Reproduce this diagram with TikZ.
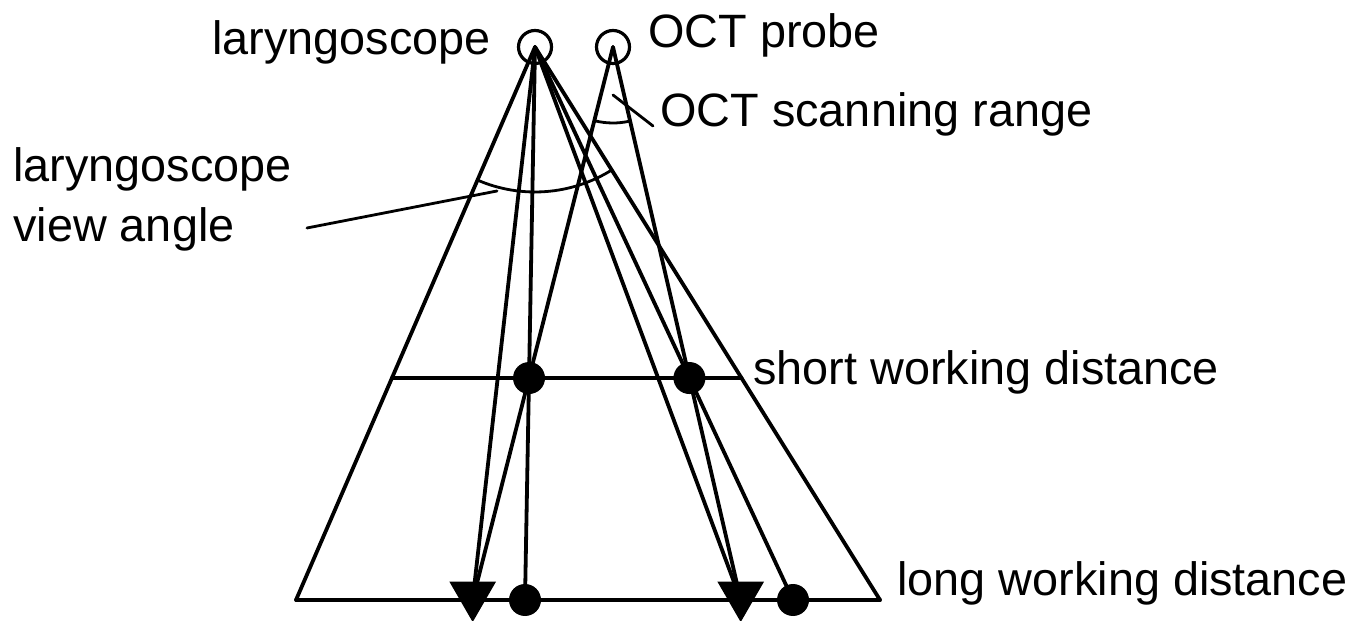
\documentclass[tikz,border=0pt]{standalone}
\usepackage{fontspec}
\setmainfont{Liberation Sans}
\usetikzlibrary{calc,shapes.geometric}
\pgfdeclarelayer{back}
\pgfsetlayers{back,main}
\begin{document}
\begin{tikzpicture}[x=0.5pt,y=0.5pt,
  ray/.style={line width=1.9pt,line cap=round,line join=round},
  thin ray/.style={line width=1.4pt,line cap=round},
  hub/.style={circle,draw,line width=1.6pt,minimum size=16.5pt,inner sep=0pt},
  spot/.style={circle,fill,minimum size=16pt,inner sep=0pt},
  tip/.style={regular polygon,regular polygon sides=3,shape border rotate=180,
              fill,minimum size=27pt,inner sep=0pt},
  lbl/.style={anchor=base west,inner sep=0pt,font=\fontsize{23.4}{27}\selectfont}]
\useasboundingbox (0,0) rectangle (1352,620);

% apertures of the laryngoscope and of the OCT probe
\node[hub] (L) at (535,573) {};
\node[hub] (P) at (613,573) {};

% corners of the field of view at the long working distance
\coordinate (A) at (296,20);
\coordinate (B) at (880,20);
% ends of the short working distance line
\coordinate (S1) at ($(L.center)!0.5986!(A)$);
\coordinate (S2) at ($(L.center)!0.5986!(B)$);
% focus points
\coordinate (e1) at (525,20);
\coordinate (e2) at (793,20);
\coordinate (d1) at ($(L.center)!0.5986!(e1)$);
\coordinate (d2) at ($(L.center)!0.5986!(e2)$);
\coordinate (t1) at ($(P.center)!1.6707!(d1)$);
\coordinate (t2) at ($(P.center)!1.6707!(d2)$);

\node[spot] (D1) at (d1) {};
\node[spot] (D2) at (d2) {};
\node[spot] (E1) at (e1) {};
\node[spot] (E2) at (e2) {};
\node[tip] (T1) at ($(t1)+(0,5)$) {};
\node[tip] (T2) at ($(t2)+(0,5)$) {};

% leader line ends
\coordinate (va1) at (307,392);
\coordinate (va2) at (497,429);
\coordinate (sr1) at (613,525);
\coordinate (sr2) at (653,494);

\begin{pgfonlayer}{back}
  % view cone and working distances
  \draw[ray] (A) -- (L.center) -- (B);
  \draw[ray] (A) -- (B);
  \draw[ray] (S1) -- (S2);
  % laryngoscope rays
  \draw[ray] (L.center) -- (t1);
  \draw[ray] (L.center) -- (E1.center);
  \draw[ray] (L.center) -- (t2);
  \draw[ray] (L.center) -- (E2.center);
  % OCT scanning rays
  \draw[ray] (P.center) -- (D1.center) -- (t1);
  \draw[ray] (P.center) -- (D2.center) -- (t2);
  % angle marks
  \draw[thin ray] (L.center) ++(-113.4:145) arc[start angle=-113.4,end angle=-58,radius=145];
  \draw[thin ray] (P.center) ++(-104.2:76) arc[start angle=-104.2,end angle=-77,radius=76];
  % leaders
  \draw[thin ray] (va1) -- (va2);
  \draw[thin ray] (sr1) -- (sr2);
\end{pgfonlayer}

% labels
\node[lbl] (tl) at (212,565) {laryngoscope};
\node[lbl] (tp) at (648,572) {OCT probe};
\node[lbl] (ts) at (660,493) {OCT scanning range};
\node[lbl] (tv1) at (13,438) {laryngoscope};
\node[lbl] (tv2) at (13,378) {view angle};
\node[lbl] (tsw) at (753,235) {short working distance};
\node[lbl] (tlw) at (897,25) {long working distance};
\end{tikzpicture}
\end{document}
